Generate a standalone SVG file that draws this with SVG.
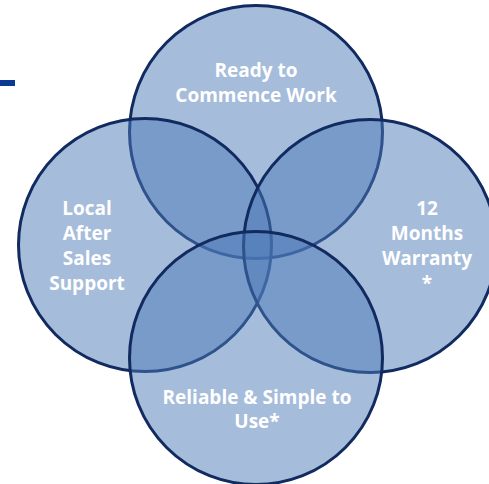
<svg xmlns="http://www.w3.org/2000/svg" width="489" height="484" viewBox="0 0 489 484">
<style>
.c{fill:rgb(75,121,183);fill-opacity:0.5;stroke:#112a60;stroke-width:3}
.t{font-family:"Open Sans","Liberation Sans",sans-serif;font-weight:bold;font-size:19px;fill:#ffffff;text-anchor:middle}
</style>
<rect width="489" height="484" fill="#ffffff"/>
<rect x="0" y="80" width="15" height="6" fill="#0a3a94"/>
<g id="top"><circle class="c" cx="256" cy="132" r="126.5"/>
<text class="t" x="256" y="77">Ready to</text><text class="t" x="256" y="102">Commence Work</text></g>
<g id="left"><circle class="c" cx="145" cy="245" r="126.5"/>
<text class="t" x="87" y="215">Local</text><text class="t" x="87" y="240">After</text><text class="t" x="87" y="265">Sales</text><text class="t" x="87" y="290">Support</text></g>
<g id="right"><circle class="c" cx="370" cy="246" r="126.5"/>
<text class="t" x="427" y="215">12</text><text class="t" x="427" y="240">Months</text><text class="t" x="427" y="265">Warranty</text><text class="t" x="427" y="290">*</text></g>
<g id="bottom"><circle class="c" cx="256" cy="358" r="126.5"/>
<text class="t" x="257" y="404">Reliable &amp; Simple to</text><text class="t" x="257" y="428">Use*</text></g>
<g id="connectors"/>
</svg>
